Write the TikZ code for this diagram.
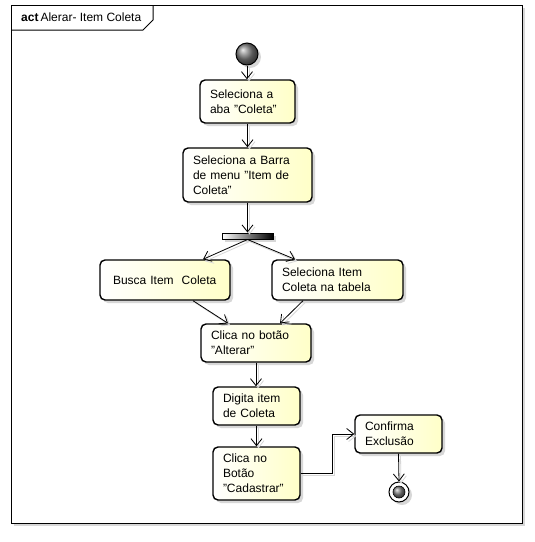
\documentclass[tikz,border=0pt]{standalone}
\usepackage{fontspec}
\setmainfont{Liberation Sans}
\usetikzlibrary{arrows.meta,shadows,calc}
\definecolor{boxyellow}{RGB}{255,255,200}
\definecolor{shadowgray}{RGB}{215,215,215}
\begin{document}
\begin{tikzpicture}[x=1pt,y=-1pt,
  font=\fontsize{12}{15}\selectfont,
  softshadow/.style={drop shadow={shadow xshift=3pt,shadow yshift=-3pt,fill=shadowgray,opacity=1}},
  actbox/.style={draw=black, line width=1.4pt, rounded corners=5pt,
    left color=white, right color=boxyellow, inner xsep=10pt, inner ysep=0pt,
    align=left, softshadow},
  flow/.style={draw=black, line width=0.8pt, -{Straight Barb[length=7pt,width=11pt]},
    preaction={draw=shadowgray, line width=0.8pt, transform canvas={shift={(2pt,-2pt)}}}},
]
\useasboundingbox (0,0) rectangle (535,542);

% frame
\draw[line width=1pt, fill=white, softshadow] (11,5) rectangle (522,523);
\draw[line width=1pt] (11,30) -- (143,30) -- (153,20) -- (153,5);
\node[anchor=west, inner sep=0pt] (title) at (21,17.5) {\textbf{act}\,Alerar- Item Coleta};

% nodes
\node[circle, draw, line width=1pt, minimum size=22pt, inner sep=0pt, ball color=gray, softshadow] (start) at (247,54) {};
\node[actbox, text width=75pt, minimum height=43pt] (b1) at (247.5,101.5) {Seleciona a\\aba "Coleta"};
\node[actbox, text width=109pt, minimum height=54pt] (b2) at (247.5,175) {Seleciona a Barra\\de menu "Item de\\Coleta"};
\node[draw, line width=1pt, minimum width=51pt, minimum height=6pt, inner sep=0pt, left color=white, right color=black, softshadow] (fork) at (247.5,236) {};
\node[actbox, inner xsep=13pt, text width=104pt, minimum height=40pt] (busca) at (165,280) {Busca Item\ \ Coleta};
\node[actbox, text width=111pt, minimum height=40pt] (selitem) at (337.5,280) {Seleciona Item\\Coleta na tabela};
\node[actbox, text width=90pt, minimum height=38pt] (clica) at (256,343) {Clica no botão\\"Alterar"};
\node[actbox, text width=67pt, minimum height=38pt] (digita) at (256.5,406) {Digita item\\de Coleta};
\node[actbox, text width=67pt, minimum height=53pt] (cad) at (256.5,473.5) {Clica no\\Botão\\"Cadastrar"};
\node[actbox, text width=67pt, minimum height=38pt] (conf) at (398.5,434) {Confirma\\Exclusão};
\node[circle, draw, line width=1pt, fill=white, minimum size=20pt, inner sep=0pt, softshadow] (final) at (399,492) {};
\node[circle, draw, line width=0.6pt, minimum size=12pt, inner sep=0pt, ball color=gray] (finaldot) at (final) {};

% connectors
\draw[flow] (start.south) -- (start.south |- b1.north);
\draw[flow] (b1.south) -- (b2.north);
\draw[flow] (b2.south) -- (fork.north);
\draw[flow] (fork.south) -- ([xshift=38pt]busca.north);
\draw[flow] (fork.south) -- ([xshift=-42.5pt]selitem.north);
\draw[flow] ([xshift=28pt]busca.south) -- ([xshift=-28pt]clica.north);
\draw[flow] ([xshift=-34.5pt]selitem.south) -- ([xshift=24pt]clica.north);
\draw[flow] (clica.south) -- (clica.south |- digita.north);
\draw[flow] (digita.south) -- (cad.north);
\draw[flow] (cad.east) -- ++(32,0) |- (conf.west);
\draw[flow] (conf.south) -- (final.north);
\end{tikzpicture}
\end{document}
